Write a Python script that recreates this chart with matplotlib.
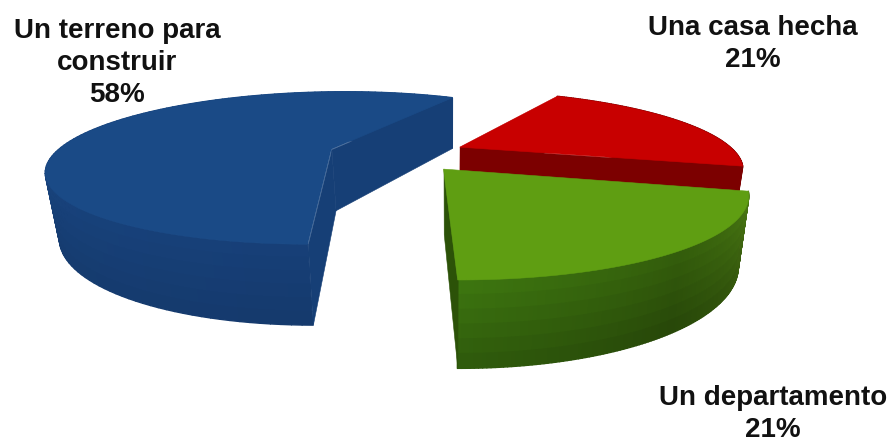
import numpy as np
import matplotlib
matplotlib.use("Agg")
import matplotlib.pyplot as plt
from matplotlib.collections import PolyCollection
from matplotlib.colors import to_rgb

labels = ["Un terreno para\nconstruir\n58%", "Una casa hecha\n21%", "Un departamento\n21%"]
values = [58, 21, 21]

# colours per slice: top face, rim wall (start, middle, end of arc), radial wall
top_colors = ["#1a4a86", "#c80000", "#5f9e12"]
rim_colors = [("#1a4a86", "#19457f", "#174079"),
              ("#800000", "#7a0000", "#800000"),
              ("#3f7a10", "#35600c", "#4f8014")]
side_colors = ["#163f76", "#7c0000", "#2c5208"]
floor_shade = [0.10, 0.0, 0.25]
label_xy = [(117, 63), (753, 44), (773, 414)]

# drawing geometry of the tilted pie
start_angle = 61.0
explodes = [0.26, 0.24, 0.245]
cuts_shown = [(0, -1), (0, -1), (0,)]
cx, cy = 400.0, 154.0
rx, ry = 277.0, 74.0
persp = 0.25
depth = 62.0
vanish_x = 450.0
taper = 0.965


def project(wx, wy, low=0.0):
    s = 1.0 / (1.0 + persp * wy)
    x = cx + rx * wx * s
    y = cy - ry * wy * s + low * depth * s
    x = vanish_x + (x - vanish_x) * (1.0 - (1.0 - taper) * low)
    return x, y


def mix(c1, c2, t):
    a, b = np.array(to_rgb(c1)), np.array(to_rgb(c2))
    return tuple(a + (b - a) * t)


def arc_color(cols, t):
    if t < 0.5:
        return mix(cols[0], cols[1], t * 2)
    return mix(cols[1], cols[2], t * 2 - 1)


def draw_slice(ax, a0, a1, i, zorder):
    mid = np.radians((a0 + a1) / 2)
    ox, oy = explodes[i] * np.cos(mid), explodes[i] * np.sin(mid)
    th = np.radians(np.linspace(a0, a1, 120))
    wx = ox + np.cos(th)
    wy = oy + np.sin(th)

    # rim wall, as small cells shaded along the arc and darker towards the floor
    cells, cols = [], []
    lows = np.linspace(0, 1, 7)
    for k in range(len(th) - 1):
        t = k / (len(th) - 2)
        for l0, l1 in zip(lows[:-1], lows[1:]):
            p = [project(wx[k], wy[k], l0), project(wx[k + 1], wy[k + 1], l0),
                 project(wx[k + 1], wy[k + 1], l1), project(wx[k], wy[k], l1)]
            cells.append(p)
            cols.append(mix(arc_color(rim_colors[i], t), "#000000", floor_shade[i] * l1))
    ax.add_collection(PolyCollection(cells, facecolors=cols, edgecolors=cols,
                                     linewidths=1.0, zorder=zorder))

    # the cut faces turned towards the viewer
    for j in cuts_shown[i]:
        p = [project(ox, oy), project(wx[j], wy[j]),
             project(wx[j], wy[j], 1.0), project(ox, oy, 1.0)]
        ax.add_collection(PolyCollection([p], facecolors=side_colors[i], edgecolors=side_colors[i],
                                         linewidths=0.4, zorder=zorder + 0.1))

    # top face
    tx, ty = project(np.r_[ox, wx], np.r_[oy, wy])
    ax.fill(tx, ty, color=top_colors[i], lw=0.4, zorder=zorder + 0.2)


fig = plt.figure(figsize=(8.95, 4.43), dpi=100)
ax = fig.add_axes([0, 0, 1, 1])
ax.set_xlim(0, 895)
ax.set_ylim(443, 0)
ax.axis("off")

# slices run counter-clockwise from the blue one; green sits in front of red
angles = start_angle + np.r_[0, np.cumsum(values)] * 3.6
draw_slice(ax, angles[0], angles[1], 0, 1)
draw_slice(ax, angles[2], angles[3], 1, 2)
draw_slice(ax, angles[1], angles[2], 2, 3)

for (x, y), lab in zip(label_xy, labels):
    ax.text(x, y, lab, ha="center", va="center", family="Liberation Sans", weight="bold",
            fontsize=20, color="#111111", linespacing=1.32, zorder=5)

fig.savefig("out.png", dpi=100)
